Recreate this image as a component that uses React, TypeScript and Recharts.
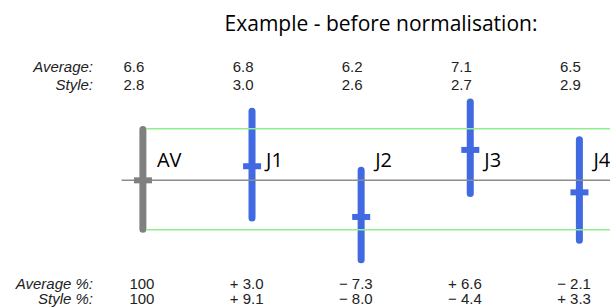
import React from 'react';
import { Bar, Cell, ComposedChart, ReferenceLine, Scatter, XAxis, YAxis } from 'recharts';

// judges (AV = overall average) and the score texts printed round the chart
const categories = ['AV', 'J1', 'J2', 'J3', 'J4'];
const averageScores = ['6.6', '6.8', '6.2', '7.1', '6.5'];
const styleScores = ['2.8', '3.0', '2.6', '2.7', '2.9'];
const averagePct = ['100', '+ 3.0', '\u2212 7.3', '+ 6.6', '\u2212 2.1'];
const stylePct = ['100', '+ 9.1', '\u2212 8.0', '\u2212 4.4', '+ 3.3'];

// spread of each judge's marks (plot units)
const rangeLow = [3.81, 4.41, 2.19, 5.71, 3.22];
const rangeHigh = [9.49, 10.47, 7.32, 10.95, 8.95];
const means = [6.6, 7.35, 4.65, 8.22, 5.96];

const baseline = 6.6;
const bandUpper = 9.35;
const bandLower = 3.97;

const GRAY = '#808080';
const BLUE = '#4169e1';
const ARIAL = '"Liberation Sans", Arial, sans-serif';
const SANS = '"Open Sans", sans-serif';

const data = categories.map((name, i) => ({
    idx: i,
    name,
    range: [rangeLow[i], rangeHigh[i]],
    mean: means[i],
}));

const colorFor = (i: number) => (i === 0 ? GRAY : BLUE);

const ColumnTick = (props: any) => {
    const { x, payload } = props;
    const i = payload.value as number;
    const txt = { fontFamily: ARIAL, fontSize: 15, fill: '#222' };
    return (
        <g>
            {i === 0 && (
                <g style={{ fontStyle: 'italic' }}>
                    <text x={93} y={71.5} textAnchor="end" {...txt}>Average:</text>
                    <text x={93} y={90} textAnchor="end" {...txt}>Style:</text>
                    <text x={93} y={288.5} textAnchor="end" {...txt}>Average %:</text>
                    <text x={93} y={303.5} textAnchor="end" {...txt}>Style %:</text>
                </g>
            )}
            <text x={x - 9} y={71.5} textAnchor="middle" {...txt}>{averageScores[i]}</text>
            <text x={x - 9} y={90} textAnchor="middle" {...txt}>{styleScores[i]}</text>
            <text x={x + 14} y={167} fontFamily={SANS} fontSize={20} fill="#000">{categories[i]}</text>
            <text x={x + 11.5} y={288.5} textAnchor="end" {...txt}>{averagePct[i]}</text>
            <text x={x + 11.5} y={303.5} textAnchor="end" {...txt}>{stylePct[i]}</text>
        </g>
    );
};

const MeanMark = (props: any) => {
    const { cx, cy, payload } = props;
    return <rect x={cx - 9} y={cy - 3} width={18} height={6} fill={colorFor(payload.idx)} />;
};

export default function App() {
    return (
        <div style={{ position: 'absolute', left: 0, top: 0, width: 610, height: 307, background: '#fff' }}>
            <div
                style={{
                    position: 'absolute',
                    left: 0,
                    width: 762,
                    top: 12.8,
                    textAlign: 'center',
                    fontFamily: SANS,
                    fontSize: 21,
                    lineHeight: '21px',
                    color: '#000',
                    whiteSpace: 'nowrap',
                }}
            >
                Example - before normalisation:
            </div>
            <ComposedChart width={610} height={307} data={data} margin={{ top: 0, right: 0, bottom: 0, left: 0 }}>
                <XAxis
                    dataKey="idx"
                    type="number"
                    domain={[-1.31, 4.28]}
                    allowDataOverflow
                    ticks={[0, 1, 2, 3, 4]}
                    interval={0}
                    axisLine={false}
                    tickLine={false}
                    height={1}
                    tick={<ColumnTick />}
                />
                <YAxis type="number" domain={[-0.09, 16.2]} allowDataOverflow hide />
                <ReferenceLine
                    segment={[{ x: 0.03, y: bandUpper }, { x: 4.28, y: bandUpper }]}
                    stroke="#90ee90"
                    strokeWidth={1.5}
                />
                <ReferenceLine
                    segment={[{ x: 0.03, y: bandLower }, { x: 4.28, y: bandLower }]}
                    stroke="#90ee90"
                    strokeWidth={1.5}
                />
                <ReferenceLine
                    segment={[{ x: -0.195, y: baseline }, { x: 4.28, y: baseline }]}
                    stroke="#8c8c8c"
                    strokeWidth={1.5}
                />
                <Bar dataKey="range" barSize={7} radius={3.5} isAnimationActive={false}>
                    {data.map((d) => (
                        <Cell key={d.name} fill={colorFor(d.idx)} />
                    ))}
                </Bar>
                <Scatter dataKey="mean" shape={<MeanMark />} isAnimationActive={false} />
            </ComposedChart>
        </div>
    );
}
